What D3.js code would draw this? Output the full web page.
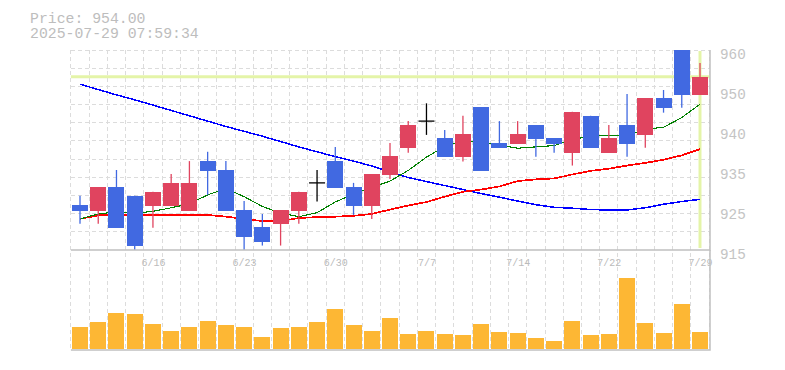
<!DOCTYPE html>
<html>
<head>
<meta charset="utf-8">
<script src="https://cdn.jsdelivr.net/npm/d3@7"></script>
<style>
  html, body { margin: 0; padding: 0; background: #fff; }
  svg { display: block; }
</style>
</head>
<body>
<svg id="chart" width="785" height="370"></svg>
<script>
// ---------- data ----------
const dates = ["6/10","6/11","6/12","6/13","6/16","6/17","6/18","6/19","6/20",
  "6/23","6/24","6/25","6/26","6/27","6/30","7/1","7/2","7/3","7/4",
  "7/7","7/8","7/9","7/10","7/11","7/14","7/15","7/16","7/17","7/18",
  "7/22","7/23","7/24","7/25","7/28","7/29"];
const opens  = [925.1,923.8,929.2,927.2,925.0,925.0,923.8,935.0,933.0,924.0,920.2,920.9,923.8,930.1,935.0,929.2,925.0,931.9,938.0,944.0,940.2,936.0,947.2,939.1,938.9,943.1,940.2,936.9,945.2,936.9,943.1,940.9,949.2,962.0,949.9];
const highs  = [927.2,929.2,933.0,927.2,928.1,932.1,935.0,937.1,935.0,926.0,923.1,924.0,928.1,933.0,938.2,930.1,932.1,939.1,944.0,948.0,942.0,945.2,947.2,944.0,944.0,943.1,940.2,946.1,945.2,943.1,950.1,949.2,951.0,962.0,957.1];
const lows   = [920.9,920.9,920.0,914.8,920.0,925.0,923.8,927.4,923.8,914.8,916.0,916.0,920.9,925.9,929.0,922.9,922.0,931.0,936.9,940.9,936.0,934.9,932.8,938.0,938.9,936.0,936.9,934.0,938.0,936.9,936.0,938.0,945.9,947.0,949.9];
const closes = [923.8,929.2,920.0,916.0,928.1,930.1,930.1,932.8,923.8,918.0,916.9,924.0,928.1,930.1,929.0,925.0,932.1,936.2,943.1,944.0,936.0,941.1,932.8,938.0,941.1,940.0,938.9,946.1,938.0,940.2,938.9,949.2,947.0,949.9,954.0];
const volumes = [22,27,36,35,25,18,22,28,24,22,12,21,22,27,40,24,18,31,15,18,15,14,25,17,16,11,8,28,14,15,71,26,16,45,17];
const maShort = [922.0,923.1,923.6,923.3,923.7,924.5,925.4,927.4,928.8,927.0,924.8,923.3,922.5,923.4,925.8,927.6,929.1,930.5,932.9,935.9,938.3,939.6,939.4,938.6,937.9,938.2,938.5,939.8,940.7,940.7,940.8,942.2,942.6,944.8,947.8];
const maMid   = [922.0,922.8,922.9,922.9,922.9,922.9,922.8,922.9,922.5,922.0,921.5,921.5,922.2,922.4,922.5,922.7,923.1,924.1,925.0,925.8,927.0,928.1,928.6,929.3,930.5,930.9,931.1,932.0,932.8,933.3,934.0,934.6,935.3,936.3,937.7];
const maLong  = [952.3,951.1,949.9,948.8,947.6,946.4,945.2,944.0,942.8,941.7,940.6,939.4,938.2,937.1,936.0,935.0,933.9,932.6,931.3,930.4,929.5,928.6,927.7,926.9,926.0,925.2,924.6,924.4,924.1,924.0,924.0,924.5,925.3,925.9,926.4];
const yTickValues = [960, 951, 942, 933, 924, 915];
const yTickLabels = ["960", "950", "940", "935", "925", "915"];
const xTickLabels = ["6/16","6/23","6/30","7/7","7/14","7/22","7/29"];
const currentPrice = 954.00;
const titleLines = ["Price: 954.00", "2025-07-29 07:59:34"];

// ---------- layout ----------
const svg = d3.select("#chart");
const X0 = 70.9, RIGHT = 710;
const TOP = 50, BOTTOM = 250, VBOT = 350;
const x = d3.scalePoint().domain(dates).range([80, 700]);
const step = x.step();
const bodyW = 16;
const y = d3.scaleLinear().domain([915, 960]).range([BOTTOM, TOP]);
const yv = d3.scaleLinear().domain([0, 100]).range([348.5, 248.5]);
const mono = "'Liberation Mono', 'Courier New', monospace";

const red = "#e0445f", blue = "#4169e1", lime = "#e4f4a8";

svg.append("defs").append("clipPath").attr("id", "plotclip")
  .append("rect").attr("x", X0).attr("y", TOP).attr("width", RIGHT - X0).attr("height", BOTTOM - TOP);

// grid
const grid = svg.append("g").attr("stroke", "#dcdcdc").attr("stroke-width", 1)
  .attr("stroke-dasharray", "4,3").attr("shape-rendering", "crispEdges");
d3.range(dates.length + 1).forEach(i => {
  const gx = 80 - step / 2 + i * step;
  grid.append("line").attr("x1", gx).attr("x2", gx).attr("y1", TOP).attr("y2", VBOT);
});
d3.range(11).forEach(k => {
  const gy = TOP + k * (BOTTOM - TOP) / 11;
  grid.append("line").attr("x1", X0).attr("x2", RIGHT).attr("y1", gy).attr("y2", gy);
});

// current price lines
svg.append("line").attr("x1", X0).attr("x2", RIGHT)
  .attr("y1", y(currentPrice)).attr("y2", y(currentPrice))
  .attr("stroke", lime).attr("stroke-width", 3);
svg.append("line").attr("x1", x(dates[dates.length - 1])).attr("x2", x(dates[dates.length - 1]))
  .attr("y1", TOP + 1).attr("y2", BOTTOM - 2)
  .attr("stroke", lime).attr("stroke-width", 3);

// moving averages
const plot = svg.append("g").attr("clip-path", "url(#plotclip)");
const lineGen = arr => d3.line().x((d, i) => x(dates[i])).y(d => y(d))(arr);
plot.append("path").attr("d", lineGen(maLong)).attr("fill", "none").attr("stroke", "#0000ff")
  .attr("stroke-width", 1.5).attr("shape-rendering", "crispEdges");
plot.append("path").attr("d", lineGen(maMid)).attr("fill", "none").attr("stroke", "#ff0000")
  .attr("stroke-width", 1.7).attr("shape-rendering", "crispEdges");
plot.append("path").attr("d", lineGen(maShort)).attr("fill", "none").attr("stroke", "#008000")
  .attr("stroke-width", 1.1).attr("shape-rendering", "crispEdges");

// candles
const candles = dates.map((d, i) => ({d, o: opens[i], h: highs[i], l: lows[i], c: closes[i]}));
const cg = plot.selectAll("g.candle").data(candles).join("g").attr("class", "candle");
const colorOf = k => k.c > k.o ? red : (k.c < k.o ? blue : "#000");
cg.append("line")
  .attr("x1", k => x(k.d)).attr("x2", k => x(k.d))
  .attr("y1", k => y(k.h)).attr("y2", k => y(k.l))
  .attr("stroke", colorOf).attr("stroke-width", 1.3);
cg.filter(k => k.c !== k.o).append("rect")
  .attr("x", k => x(k.d) - bodyW / 2).attr("width", bodyW)
  .attr("y", k => y(Math.max(k.o, k.c)))
  .attr("height", k => Math.abs(y(k.o) - y(k.c)))
  .attr("fill", colorOf).attr("shape-rendering", "crispEdges");
cg.filter(k => k.c === k.o).append("line")
  .attr("x1", k => x(k.d) - bodyW / 2).attr("x2", k => x(k.d) + bodyW / 2)
  .attr("y1", k => y(k.o)).attr("y2", k => y(k.o))
  .attr("stroke", "#000").attr("stroke-width", 1.3);

// volume bars
svg.append("g").selectAll("rect").data(volumes).join("rect")
  .attr("x", (v, i) => x(dates[i]) - bodyW / 2).attr("width", bodyW)
  .attr("y", v => yv(v)).attr("height", v => yv(0) - yv(v))
  .attr("fill", "#fdb734").attr("shape-rendering", "crispEdges");

// x axis labels
const xAxis = svg.append("g").attr("transform", `translate(0,${BOTTOM})`)
  .call(d3.axisBottom(x).tickValues(xTickLabels).tickSize(0));
xAxis.select(".domain").remove();
xAxis.selectAll("text").attr("y", 15.5).attr("dy", 0)
  .attr("fill", "#bbbbbb").style("font-family", mono).style("font-size", "10px");

// y axis labels
const yAxis = svg.append("g").attr("transform", `translate(${RIGHT},0)`)
  .call(d3.axisRight(y).tickValues(yTickValues).tickSize(0).tickPadding(10)
    .tickFormat((d, i) => yTickLabels[i]));
yAxis.select(".domain").remove();
yAxis.selectAll("text").attr("dy", "0.6em")
  .attr("fill", "#c4c4c4").style("font-family", mono).style("font-size", "14.3px");

// borders
const border = svg.append("g").attr("stroke", "#c0c0c0").attr("stroke-width", 1.5).attr("fill", "none");
border.append("path").attr("d", `M${X0},${BOTTOM}H${RIGHT}V${TOP}`);
border.append("path").attr("d", `M${X0},${VBOT}H${RIGHT}V${BOTTOM}`);

// title
svg.append("g").selectAll("text").data(titleLines).join("text")
  .attr("x", 30).attr("y", (t, i) => 22.7 + i * 15)
  .attr("fill", "#bdbdbd").style("font-family", mono).style("font-size", "14.8px")
  .text(t => t);
</script>
</body>
</html>
